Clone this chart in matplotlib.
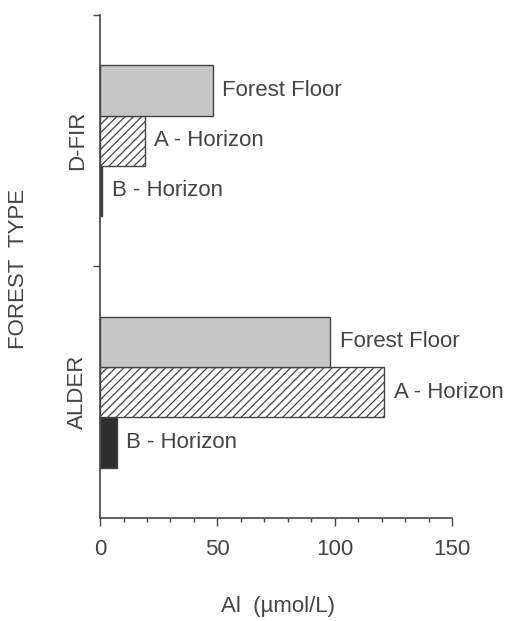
import numpy as np
import matplotlib
matplotlib.use('Agg')
import matplotlib.pyplot as plt
from matplotlib.ticker import MultipleLocator

plt.rcParams['font.family'] = ['Liberation Sans', 'DejaVu Sans']
plt.rcParams['hatch.linewidth'] = 0.9
plt.rcParams['hatch.color'] = '#444444'

forest_types = ['ALDER', 'D-FIR']
horizons = ['B - Horizon', 'A - Horizon', 'Forest Floor']
alder_al = [7, 121, 98]
dfir_al = [0.8, 19, 48]

ink = '#444444'
fills = ['#2e2e2e', 'white', '#c6c6c6']
hatches = [None, '////', None]

fig = plt.figure(figsize=(5.08, 6.21), dpi=100)
ax = fig.add_axes([0.197, 0.166, 0.693, 0.81])

for base, vals in [(1, alder_al), (6, dfir_al)]:
    ys = base + 0.5 + np.arange(len(vals))
    for y, v, lab, fc, h in zip(ys, vals, horizons, fills, hatches):
        ax.barh(y, v, height=1.0, color=fc, edgecolor=ink, linewidth=1.0, hatch=h)
        ax.annotate(lab, (v, y), xytext=(7, 0), textcoords='offset points',
                    va='center', ha='left', fontsize=16, color=ink)

ax.set_xlim(0, 150)
ax.set_ylim(0, 10)
ax.xaxis.set_major_locator(MultipleLocator(50))
ax.xaxis.set_minor_locator(MultipleLocator(10))
ax.set_yticks([5, 10])
ax.set_yticklabels([])
ax.tick_params(axis='x', which='major', length=6, width=1, colors=ink, labelsize=16, pad=9)
ax.tick_params(axis='x', which='minor', length=3, width=1, colors=ink)
ax.tick_params(axis='y', length=5, width=1, colors=ink)
for s in ['top', 'right']:
    ax.spines[s].set_visible(False)
for s in ['left', 'bottom']:
    ax.spines[s].set_color(ink)
    ax.spines[s].set_linewidth(1.2)

ax.text(-0.065, 0.75, forest_types[1], transform=ax.transAxes, rotation=90, ha='center', va='center',
        fontsize=16, color=ink)
ax.text(-0.065, 0.25, forest_types[0], transform=ax.transAxes, rotation=90, ha='center', va='center',
        fontsize=16, color=ink)
ax.text(-0.232, 0.495, 'FOREST  TYPE', transform=ax.transAxes, rotation=90, ha='center', va='center',
        fontsize=16, color=ink)
fig.text(0.548, 0.006, 'Al  (\u00b5mol/L)', ha='center', va='bottom', fontsize=16, color=ink)

fig.savefig('out.png', dpi=100, facecolor='white')
